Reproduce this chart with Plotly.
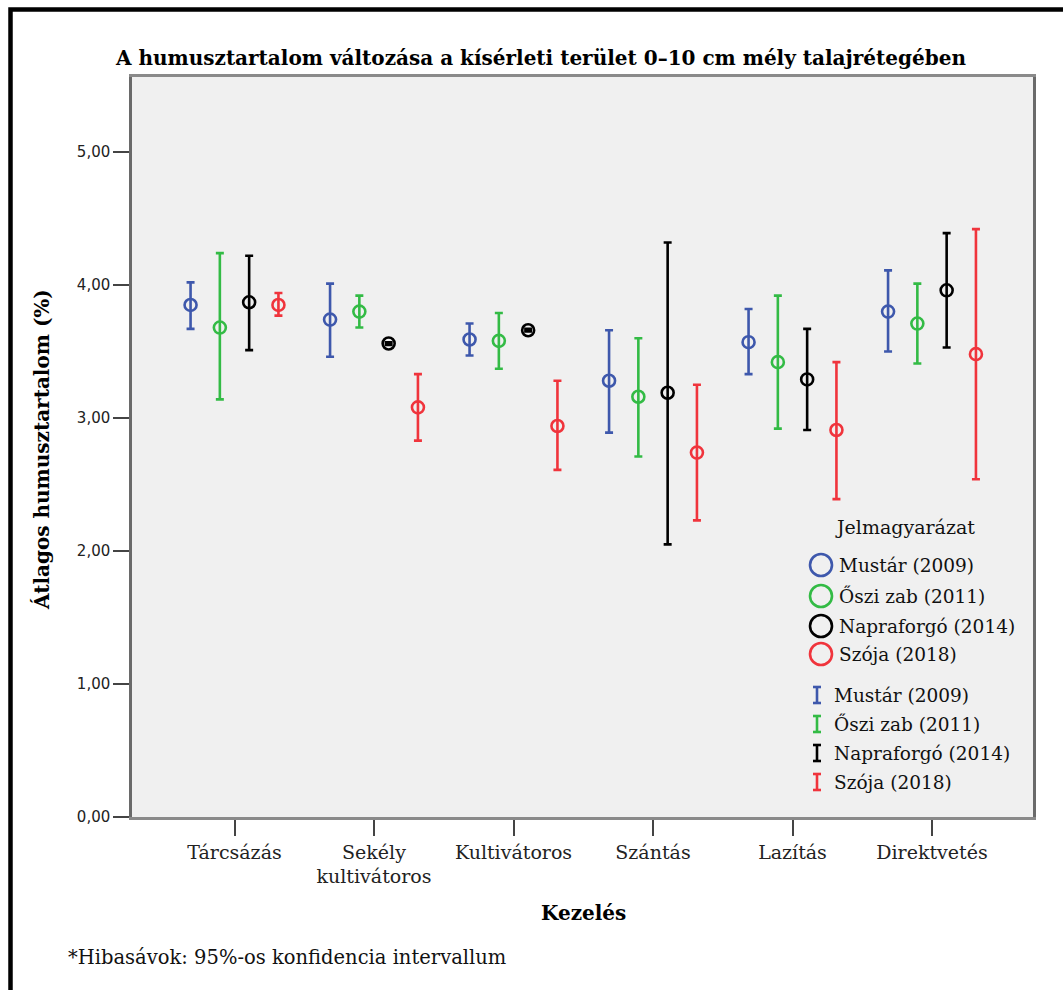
import plotly.graph_objects as go

# ---------------- data ----------------
categories = ["Tárcsázás", "Sekély<br>kultivátoros", "Kultivátoros", "Szántás", "Lazítás", "Direktvetés"]
series_names = ["Mustár (2009)", "Őszi zab (2011)", "Napraforgó (2014)", "Szója (2018)"]
series_colors = ["#3E58AC", "#33BB45", "#000000", "#F0343C"]

mustar_mean = [3.85, 3.74, 3.59, 3.28, 3.57, 3.80]
mustar_hi   = [4.02, 4.01, 3.71, 3.66, 3.82, 4.11]
mustar_lo   = [3.67, 3.46, 3.47, 2.89, 3.33, 3.50]

oszizab_mean = [3.68, 3.80, 3.58, 3.16, 3.42, 3.71]
oszizab_hi   = [4.24, 3.92, 3.79, 3.60, 3.92, 4.01]
oszizab_lo   = [3.14, 3.68, 3.37, 2.71, 2.92, 3.41]

napraforgo_mean = [3.87, 3.56, 3.66, 3.19, 3.29, 3.96]
napraforgo_hi   = [4.22, 3.57, 3.67, 4.32, 3.67, 4.39]
napraforgo_lo   = [3.51, 3.55, 3.65, 2.05, 2.91, 3.53]

szoja_mean = [3.85, 3.08, 2.94, 2.74, 2.91, 3.48]
szoja_hi   = [3.94, 3.33, 3.28, 3.25, 3.42, 4.42]
szoja_lo   = [3.77, 2.83, 2.61, 2.23, 2.39, 2.54]

y_tickvals = [0, 1, 2, 3, 4, 5]
y_ticktext = ["0,00", "1,00", "2,00", "3,00", "4,00", "5,00"]

title_text = "A humusztartalom változása a kísérleti terület 0–10 cm mély talajrétegében"
ytitle_text = "Átlagos humusztartalom (%)"
xtitle_text = "Kezelés"
legend_title = "Jelmagyarázat"
footnote_text = "*Hibasávok: 95%-os konfidencia intervallum"

means = [mustar_mean, oszizab_mean, napraforgo_mean, szoja_mean]
his = [mustar_hi, oszizab_hi, napraforgo_hi, szoja_hi]
los = [mustar_lo, oszizab_lo, napraforgo_lo, szoja_lo]

# ---------------- layout geometry ----------------
W, H = 1063, 990
L, R, T, B = 132, 1033, 77, 817   # plot area in px
offsets = [-0.315, -0.105, 0.105, 0.315]

def px(x):
    return (x - L) / (R - L)

def py(y):
    return (B - y) / (B - T)

SERIF = "DejaVu Serif"

fig = go.Figure()
for k in range(4):
    xs = [i + offsets[k] for i in range(len(categories))]
    fig.add_trace(go.Scatter(
        x=xs, y=means[k], mode="markers", name=series_names[k],
        marker=dict(symbol="circle-open", size=12, color=series_colors[k],
                    line=dict(width=2.6, color=series_colors[k])),
        error_y=dict(type="data", symmetric=False,
                     array=[h - m for h, m in zip(his[k], means[k])],
                     arrayminus=[m - l for m, l in zip(means[k], los[k])],
                     color=series_colors[k], thickness=2.6, width=4),
        showlegend=False,
    ))

fig.update_layout(
    width=W, height=H,
    margin=dict(l=L, r=W - R, t=T, b=H - B, pad=0),
    paper_bgcolor="white", plot_bgcolor="#F0F0F0",
    font=dict(family=SERIF, size=19, color="#111"),
    xaxis=dict(range=[(L - 234.5) / 139.5, (R - 234.5) / 139.5],
               tickvals=list(range(len(categories))), ticktext=categories,
               ticks="outside", ticklen=16, tickwidth=2, tickcolor="#444",
               showline=True, linecolor="#8A8A8A", linewidth=2.5, mirror=True,
               showgrid=False, zeroline=False,
               tickfont=dict(family=SERIF, size=19, color="#222")),
    yaxis=dict(range=[0, (B - T) / 133.0],
               tickvals=y_tickvals, ticktext=y_ticktext,
               ticks="outside", ticklen=16, tickwidth=2, tickcolor="#444",
               showline=True, linecolor="#6A6A6A", linewidth=2.5, mirror=True,
               showgrid=False, zeroline=False,
               tickfont=dict(family="DejaVu Sans", size=15, color="#222")),
)

ann = []
ann.append(dict(text="<b>" + title_text + "</b>", x=px(540), y=py(58), xref="paper", yref="paper",
                xanchor="center", yanchor="middle", showarrow=False,
                font=dict(family=SERIF, size=20, color="#000")))
ann.append(dict(text="<b>" + ytitle_text + "</b>", x=px(42), y=py(450), xref="paper", yref="paper",
                xanchor="center", yanchor="middle", showarrow=False, textangle=-90,
                font=dict(family=SERIF, size=20, color="#000")))
ann.append(dict(text="<b>" + xtitle_text + "</b>", x=px(583), y=py(913), xref="paper", yref="paper",
                xanchor="center", yanchor="middle", showarrow=False,
                font=dict(family=SERIF, size=20, color="#000")))
ann.append(dict(text=footnote_text, x=px(66), y=py(957), xref="paper", yref="paper",
                xanchor="left", yanchor="middle", showarrow=False,
                font=dict(family=SERIF, size=19.5, color="#111")))
ann.append(dict(text=legend_title, x=px(905), y=py(527), xref="paper", yref="paper",
                xanchor="center", yanchor="middle", showarrow=False,
                font=dict(family=SERIF, size=19, color="#111")))

shapes = []
# outer frame
shapes.append(dict(type="rect", xref="paper", yref="paper",
                   x0=px(10.5), x1=px(1070), y0=py(9.5), y1=py(1010),
                   line=dict(color="black", width=4.5), fillcolor="rgba(0,0,0,0)", layer="above"))

circle_y = [565, 596, 626, 654]
ibar_y = [695, 724, 753, 782]
for k in range(4):
    cy = circle_y[k]
    shapes.append(dict(type="circle", xref="paper", yref="paper",
                       x0=px(810), x1=px(832), y0=py(cy - 11), y1=py(cy + 11),
                       line=dict(color=series_colors[k], width=2.6)))
    ann.append(dict(text=series_names[k], x=px(837), y=py(cy), xref="paper", yref="paper",
                    xanchor="left", yanchor="middle", showarrow=False,
                    font=dict(family=SERIF, size=18.5, color="#111")))
    iy = ibar_y[k]
    c = series_colors[k]
    shapes.append(dict(type="line", xref="paper", yref="paper",
                       x0=px(817), x1=px(817), y0=py(iy - 8), y1=py(iy + 8),
                       line=dict(color=c, width=2.6)))
    for yy in (iy - 8, iy + 8):
        shapes.append(dict(type="line", xref="paper", yref="paper",
                           x0=px(813), x1=px(821), y0=py(yy), y1=py(yy),
                           line=dict(color=c, width=2.6)))
    ann.append(dict(text=series_names[k], x=px(832), y=py(iy), xref="paper", yref="paper",
                    xanchor="left", yanchor="middle", showarrow=False,
                    font=dict(family=SERIF, size=18.5, color="#111")))

fig.update_layout(annotations=ann, shapes=shapes)
fig.write_html("out.html")
